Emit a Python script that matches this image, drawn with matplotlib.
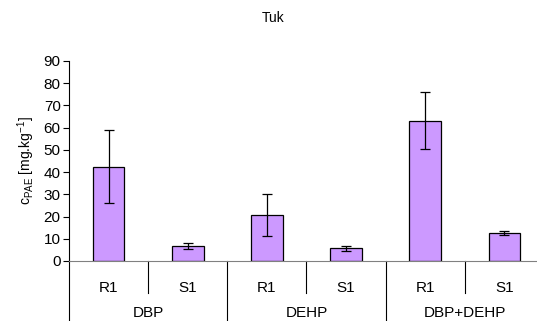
import numpy as np
import matplotlib.pyplot as plt

plt.rcParams['font.family'] = ['Liberation Sans', 'DejaVu Sans']
plt.rcParams['mathtext.fontset'] = 'custom'
plt.rcParams['mathtext.rm'] = 'Liberation Sans'

groups = ['DBP', 'DEHP', 'DBP+DEHP']
sites = ['R1', 'S1']
values = [42.4, 6.9, 20.7, 5.7, 63.1, 12.6]
errors = [16.5, 1.4, 9.3, 1.0, 12.9, 0.9]

fig = plt.figure(figsize=(5.37, 3.21), dpi=100)
ax = fig.add_axes([69 / 537, 60 / 321, 475 / 537, 200 / 321])

x = np.arange(len(values))
ax.bar(x, values, width=0.4, color='#CC99FF', edgecolor='black', linewidth=0.9,
       yerr=errors, error_kw=dict(ecolor='black', elinewidth=0.9, capsize=3.5, capthick=0.9))

ax.set_xlim(-0.5, len(values) - 0.5)
ax.set_ylim(0, 90)
ax.set_yticks(range(0, 91, 10))
ax.tick_params(axis='y', direction='out', length=4, width=0.8, labelsize=11, pad=2)
ax.set_xticks([])
ax.spines['top'].set_visible(False)
ax.spines['right'].set_visible(False)
ax.spines['bottom'].set_color('#808080')
ax.spines['left'].set_color('black')
ax.spines['left'].set_linewidth(0.8)

ax.set_ylabel(r'c$_{\mathregular{PAE}}$ [mg.kg$^{\mathregular{-1}}$]', fontsize=10, labelpad=5)
fig.text(273 / 537, 1 - 18 / 321, 'Tuk', ha='center', va='center', fontsize=10)

# category axis below the plot
tr = ax.get_xaxis_transform()
for i, s in enumerate(sites * len(groups)):
    ax.text(i, -0.135, s, transform=tr, ha='center', va='center', fontsize=11)
for g, name in enumerate(groups):
    ax.text(2 * g + 0.5, -0.26, name, transform=tr, ha='center', va='center', fontsize=11)
for b in np.arange(0.5, len(values) - 0.5, 2):
    ax.plot([b, b], [0, -0.16], transform=tr, color='black', lw=0.8, clip_on=False)
for b in np.arange(-0.5, len(values) + 0.5, 2):
    ax.plot([b, b], [0, -0.32], transform=tr, color='black', lw=0.8, clip_on=False)

fig.savefig('out.png', dpi=100)
